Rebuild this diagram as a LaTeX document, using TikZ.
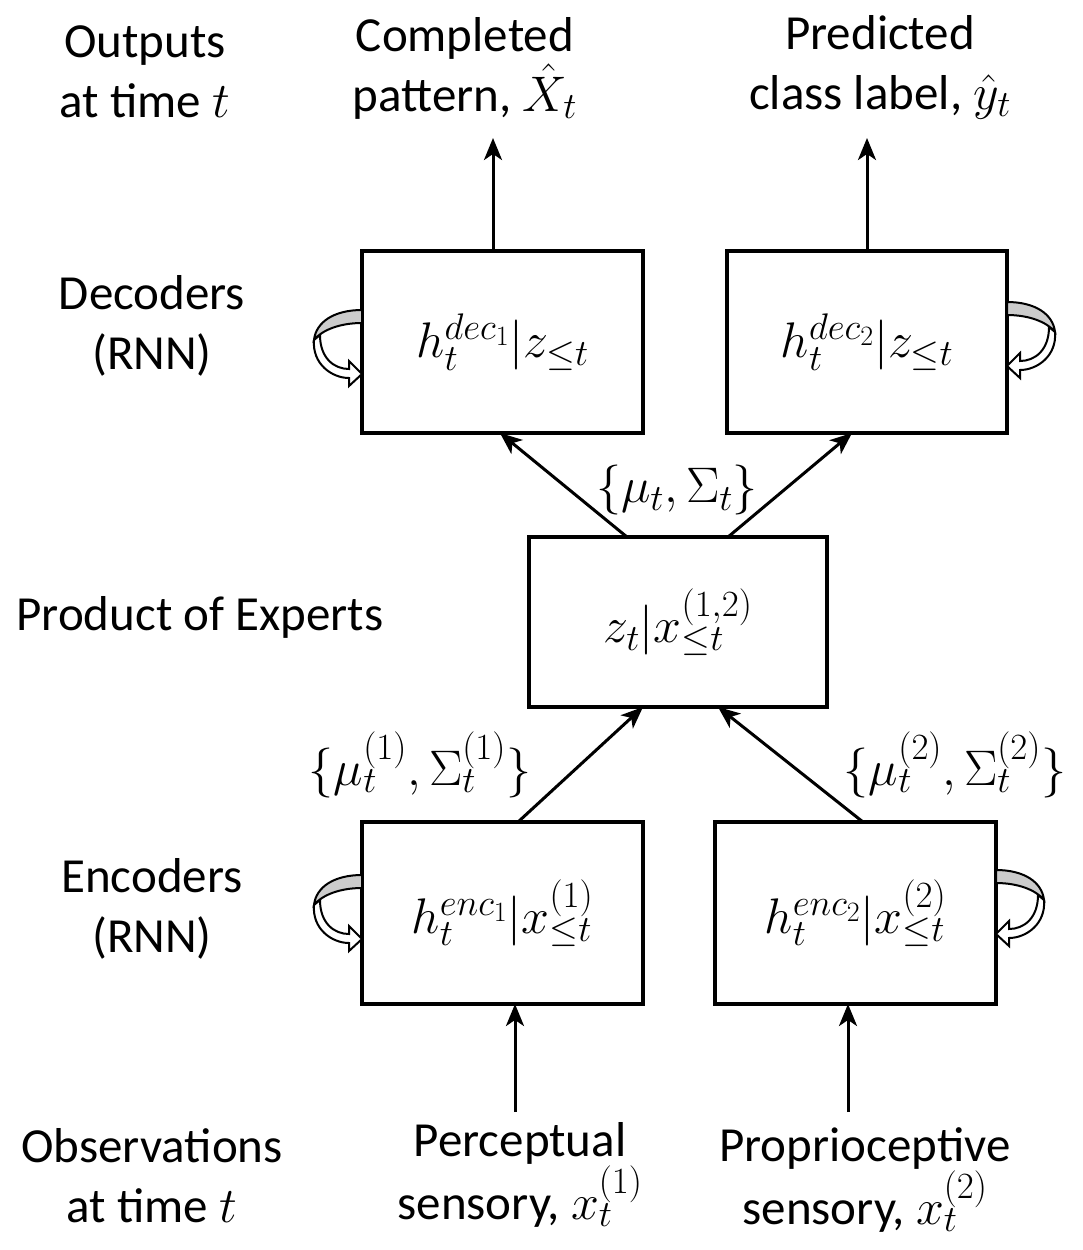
\RequirePackage{fix-cm}
\documentclass[tikz,border=0pt]{standalone}
\usepackage{fontspec}
\setmainfont{Carlito}
\DeclareMathSizes{49}{50}{37}{28}
\usetikzlibrary{arrows.meta,calc}
\newcommand{\rnnloop}{%
  \filldraw[fill=gray!40, draw=black, line width=2pt]
    (0,0) .. controls (-28,0) and (-46,12) .. (-48,30)
    .. controls (-40,20) and (-22,13) .. (0,13) -- cycle;
  \filldraw[fill=white, draw=black, line width=2pt]
    (-48,30) .. controls (-50,54) and (-30,68) .. (-13,68)
    -- (-13,76) -- (0,64) -- (-13,51) -- (-13,59)
    .. controls (-28,59) and (-42,48) .. (-42,25) -- cycle;
}
\begin{document}
\begin{tikzpicture}[x=1pt,y=-1pt,
  every node/.style={font=\fontsize{49}{60}\selectfont},
  lbl/.style={align=center, inner sep=0pt},
  boxnode/.style={draw, line width=4.5pt, inner sep=0pt, outer sep=0pt},
  conn/.style={line width=3pt, -{Stealth[length=22pt, width=18pt, inset=6pt]}}]
\useasboundingbox (0,0) rectangle (1082,1250);

% boxes
\node[boxnode, minimum width=281pt, minimum height=182pt] (dec1) at (502.5,342) {$h_t^{dec_1}|z_{\leq t}$};
\node[boxnode, minimum width=280pt, minimum height=182pt] (dec2) at (867,342) {$h_t^{dec_2}|z_{\leq t}$};
\node[boxnode, minimum width=298pt, minimum height=170pt] (poe) at (678,622) {$z_t|x_{\leq t}^{(1,2)}$};
\node[boxnode, minimum width=281pt, minimum height=182pt] (enc1) at (502.5,913) {$h_t^{enc_1}|x_{\leq t}^{(1)}$};
\node[boxnode, minimum width=281pt, minimum height=182pt] (enc2) at (855.5,913) {$h_t^{enc_2}|x_{\leq t}^{(2)}$};

% left labels
\node[lbl] (lout) at (145,72) {Outputs\\at time $t$};
\node[lbl] (ldec) at (152,326) {Decoders\\(RNN)};
\node[lbl] (lpoe) at (200,617) {Product of Experts};
\node[lbl] (lenc) at (152,909) {Encoders\\(RNN)};
\node[lbl] (lobs) at (152,1176) {Observations\\at time $t$};

% top outputs
\node[lbl] (tcomp) at (465,68) {Completed\\pattern, $\hat{X}_t$};
\node[lbl] (tpred) at (880,67) {Predicted\\class label, $\hat{y}_t$};

% bottom inputs
\node[lbl] (bper) at (520,1175) {Perceptual\\sensory, $x_t^{(1)}$};
\node[lbl] (bpro) at (865,1180) {Proprioceptive\\sensory, $x_t^{(2)}$};

% parameter labels
\node[lbl] (mpoe) at (677,490) {$\{\mu_t, \Sigma_t\}$};
\node[lbl] (m1) at (420,765) {$\{\mu_t^{(1)}, \Sigma_t^{(1)}\}$};
\node[lbl] (m2) at (955,765) {$\{\mu_t^{(2)}, \Sigma_t^{(2)}\}$};

% free ends
\coordinate (o1) at (493,138);
\coordinate (o2) at (867,138);
\coordinate (s1) at (515,1112);
\coordinate (s2) at (848,1112);

% connectors
\draw[conn] ($(dec1.north west)+(131,0)$) -- (o1);
\draw[conn] (dec2.north) -- (o2);
\draw[conn] ($(poe.north west)+(98,0)$) -- ($(dec1.south west)+(138,0)$);
\draw[conn] ($(poe.north west)+(199,0)$) -- ($(dec2.south west)+(125,0)$);
\draw[conn] ($(enc1.north west)+(156,0)$) -- ($(poe.south west)+(114,0)$);
\draw[conn] ($(enc2.north west)+(148,0)$) -- ($(poe.south west)+(189,0)$);
\draw[conn] (s1) -- ($(enc1.south west)+(153,0)$);
\draw[conn] (s2) -- ($(enc2.south west)+(133,0)$);

% recurrent loops
\begin{scope}[shift={(dec1.west)}, yshift=32pt]\rnnloop\end{scope}
\begin{scope}[shift={(dec2.east)}, yshift=40pt, xscale=-1]\rnnloop\end{scope}
\begin{scope}[shift={(enc1.west)}, yshift=38pt]\rnnloop\end{scope}
\begin{scope}[shift={(enc2.east)}, yshift=43pt, xscale=-1]\rnnloop\end{scope}
\end{tikzpicture}
\end{document}
